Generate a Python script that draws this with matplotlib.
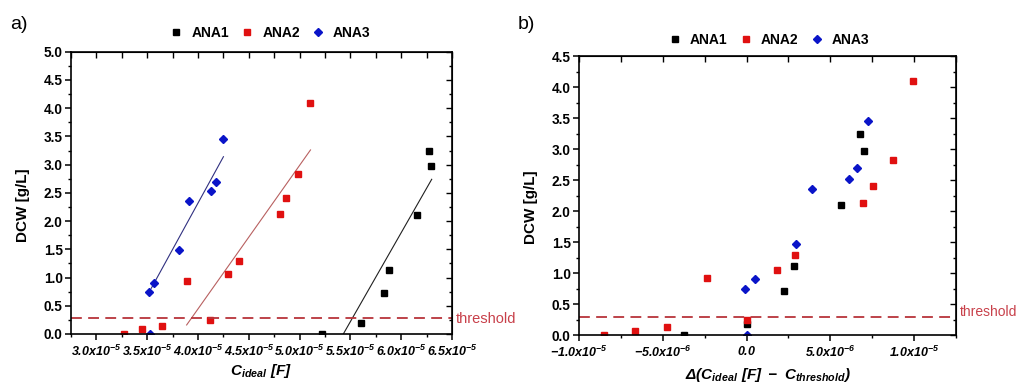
import numpy as np
import matplotlib
matplotlib.use('Agg')
import matplotlib.pyplot as plt
from matplotlib.ticker import MultipleLocator, FixedLocator, FixedFormatter

plt.rcParams['font.family'] = ['Liberation Sans', 'DejaVu Sans']
plt.rcParams['mathtext.fontset'] = 'custom'
plt.rcParams['mathtext.bf'] = 'Liberation Sans:bold:italic'
plt.rcParams['mathtext.rm'] = 'Liberation Sans:bold:italic'
plt.rcParams['mathtext.it'] = 'Liberation Sans:bold:italic'

# ---- panel a data: C_ideal [F] vs DCW [g/L]
a_ana1_x = [5.225e-5, 5.60e-5, 5.83e-5, 5.88e-5, 6.16e-5, 6.297e-5, 6.274e-5]
a_ana1_y = [0.0, 0.20, 0.73, 1.13, 2.10, 2.97, 3.24]
a_ana2_x = [3.268e-5, 3.452e-5, 3.645e-5, 3.888e-5, 4.117e-5, 4.298e-5,
            4.40e-5, 4.81e-5, 4.87e-5, 4.986e-5, 5.107e-5]
a_ana2_y = [0.0, 0.08, 0.14, 0.94, 0.25, 1.06, 1.30, 2.13, 2.40, 2.84, 4.10]
a_ana3_x = [3.517e-5, 3.566e-5, 3.816e-5, 3.91e-5, 4.13e-5, 4.18e-5, 4.25e-5, 3.527e-5]
a_ana3_y = [0.75, 0.90, 1.48, 2.36, 2.53, 2.70, 3.45, 0.0]

# fitted lines (end points)
fit1_x = [5.43e-5, 6.30e-5]
fit1_y = [0.0, 2.74]
fit2_x = [3.888e-5, 5.107e-5]
fit2_y = [0.16, 3.26]
fit3_x = [3.54e-5, 4.25e-5]
fit3_y = [0.81, 3.14]

# ---- panel b data: delta(C_ideal - C_threshold) vs DCW
b_ana1_x = [0.676e-5, 0.702e-5, 0.561e-5, 0.282e-5, 0.225e-5, 0.0, -0.376e-5]
b_ana1_y = [3.25, 2.975, 2.10, 1.12, 0.72, 0.18, 0.0]
b_ana2_x = [0.994e-5, 0.873e-5, 0.757e-5, 0.694e-5, 0.288e-5, 0.181e-5,
            -0.235e-5, 0.0, -0.475e-5, -0.664e-5, -0.849e-5]
b_ana2_y = [4.10, 2.83, 2.40, 2.13, 1.30, 1.06, 0.93, 0.247, 0.13, 0.07, 0.0]
b_ana3_x = [0.724e-5, 0.658e-5, 0.610e-5, 0.39e-5, 0.294e-5, 0.048e-5, -0.008e-5, 0.0]
b_ana3_y = [3.45, 2.69, 2.52, 2.36, 1.47, 0.90, 0.75, 0.0]

thresh_a = 0.28
thresh_b = 0.29

a_xticks = [3.0e-5, 3.5e-5, 4.0e-5, 4.5e-5, 5.0e-5, 5.5e-5, 6.0e-5, 6.5e-5]
a_xlabels = [r'$\mathbf{3.0x10^{-5}}$', r'$\mathbf{3.5x10^{-5}}$', r'$\mathbf{4.0x10^{-5}}$',
             r'$\mathbf{4.5x10^{-5}}$', r'$\mathbf{5.0x10^{-5}}$', r'$\mathbf{5.5x10^{-5}}$',
             r'$\mathbf{6.0x10^{-5}}$', r'$\mathbf{6.5x10^{-5}}$']
b_xticks = [-1.0e-5, -5.0e-6, 0.0, 5.0e-6, 1.0e-5]
b_xlabels = [r'$\mathbf{-1.0x10^{-5}}$', r'$\mathbf{-5.0x10^{-6}}$', r'$\mathbf{0.0}$',
             r'$\mathbf{5.0x10^{-6}}$', r'$\mathbf{1.0x10^{-5}}$']

BLACK = '#000000'
RED = '#e01010'
BLUE = '#0a14c8'
THR = '#b8343a'

fig = plt.figure(figsize=(10.19, 3.85), dpi=100)
axa = fig.add_axes([0.0697, 0.1325, 0.3739, 0.7332])
axb = fig.add_axes([0.5682, 0.1291, 0.3700, 0.7254])


def style_axes(ax, xticks, xlabels, xminor, ymax):
    ax.set_ylim(0, ymax)
    ax.xaxis.set_major_locator(FixedLocator(xticks))
    ax.xaxis.set_major_formatter(FixedFormatter(xlabels))
    ax.xaxis.set_minor_locator(MultipleLocator(xminor))
    ax.yaxis.set_major_locator(MultipleLocator(0.5))
    ax.yaxis.set_minor_locator(MultipleLocator(0.25))
    ax.yaxis.set_major_formatter(matplotlib.ticker.FormatStrFormatter('%.1f'))
    for s in ax.spines.values():
        s.set_linewidth(1.2)
    ax.tick_params(which='major', direction='out', length=4, width=1.1)
    ax.tick_params(which='minor', direction='out', length=2.5, width=1.0)
    ax.tick_params(axis='x', labelsize=9, pad=3)
    ax.tick_params(axis='y', labelsize=9.8, pad=2)
    for lab in ax.get_yticklabels():
        lab.set_fontweight('bold')
    # mirrored ticks pointing inward on top / right
    top = ax.secondary_xaxis('top')
    top.xaxis.set_major_locator(MultipleLocator(xminor))
    top.tick_params(direction='in', length=4, width=1.0, labeltop=False)
    right = ax.secondary_yaxis('right')
    right.yaxis.set_major_locator(MultipleLocator(0.5))
    right.yaxis.set_minor_locator(MultipleLocator(0.25))
    right.tick_params(which='major', direction='in', length=4, width=1.0, labelright=False)
    right.tick_params(which='minor', direction='in', length=2.5, width=1.0)
    ax.set_ylabel('DCW [g/L]', fontsize=11, fontweight='bold')


# panel a
axa.plot(fit1_x, fit1_y, color='#202020', lw=0.8)
axa.plot(fit2_x, fit2_y, color='#b86060', lw=0.8)
axa.plot(fit3_x, fit3_y, color='#303080', lw=0.8)
axa.plot(a_ana1_x, a_ana1_y, 's', color=BLACK, ms=5, ls='none', label='ANA1')
axa.plot(a_ana2_x, a_ana2_y, 's', color=RED, ms=5, ls='none', label='ANA2')
axa.plot(a_ana3_x, a_ana3_y, 'D', color=BLUE, ms=4.5, ls='none', label='ANA3')
axa.axhline(thresh_a, color=THR, lw=1.3, ls=(0, (6, 3.5)))
axa.set_xlim(2.75e-5, 6.5e-5)
style_axes(axa, a_xticks, a_xlabels, 0.25e-5, 5.0)
axa.set_xlabel(r'$\mathbf{C_{ideal}\ [F]}$', fontsize=11)
axa.xaxis.set_label_coords(0.5, -0.10)
axa.yaxis.set_label_coords(-0.108, 0.457)
axa.text(1.01, thresh_a - 0.02, 'threshold', transform=axa.get_yaxis_transform(),
         color='#c8404a', fontsize=10.5, va='center', ha='left')
axa.legend(loc='center', bbox_to_anchor=(0.522, 1.066), ncol=3, frameon=False,
           prop={'weight': 'bold', 'size': 10}, handletextpad=0.6, columnspacing=0.8,
           handlelength=1.0, borderaxespad=0)

# panel b
axb.plot(b_ana1_x, b_ana1_y, 's', color=BLACK, ms=5, ls='none', label='ANA1')
axb.plot(b_ana2_x, b_ana2_y, 's', color=RED, ms=5, ls='none', label='ANA2')
axb.plot(b_ana3_x, b_ana3_y, 'D', color=BLUE, ms=4.5, ls='none', label='ANA3')
axb.axhline(thresh_b, color=THR, lw=1.3, ls=(0, (6, 3.5)))
axb.set_xlim(-1.0e-5, 1.25e-5)
style_axes(axb, b_xticks, b_xlabels, 2.5e-6, 4.5)
axb.set_xlabel(r'$\mathbf{\Delta(C_{ideal}\ [F]\ -\ C_{threshold})}$', fontsize=11)
axb.xaxis.set_label_coords(0.5, -0.11)
axb.yaxis.set_label_coords(-0.109, 0.457)
axb.text(1.01, 0.38, 'threshold', transform=axb.get_yaxis_transform(),
         color='#c8404a', fontsize=10, va='center', ha='left')
axb.legend(loc='center', bbox_to_anchor=(0.503, 1.057), ncol=3, frameon=False,
           prop={'weight': 'bold', 'size': 10}, handletextpad=0.6, columnspacing=0.8,
           handlelength=1.0, borderaxespad=0)

fig.text(0.010, 0.925, 'a)', fontsize=14)
fig.text(0.508, 0.925, 'b)', fontsize=14)

fig.savefig('out.png', dpi=100)
